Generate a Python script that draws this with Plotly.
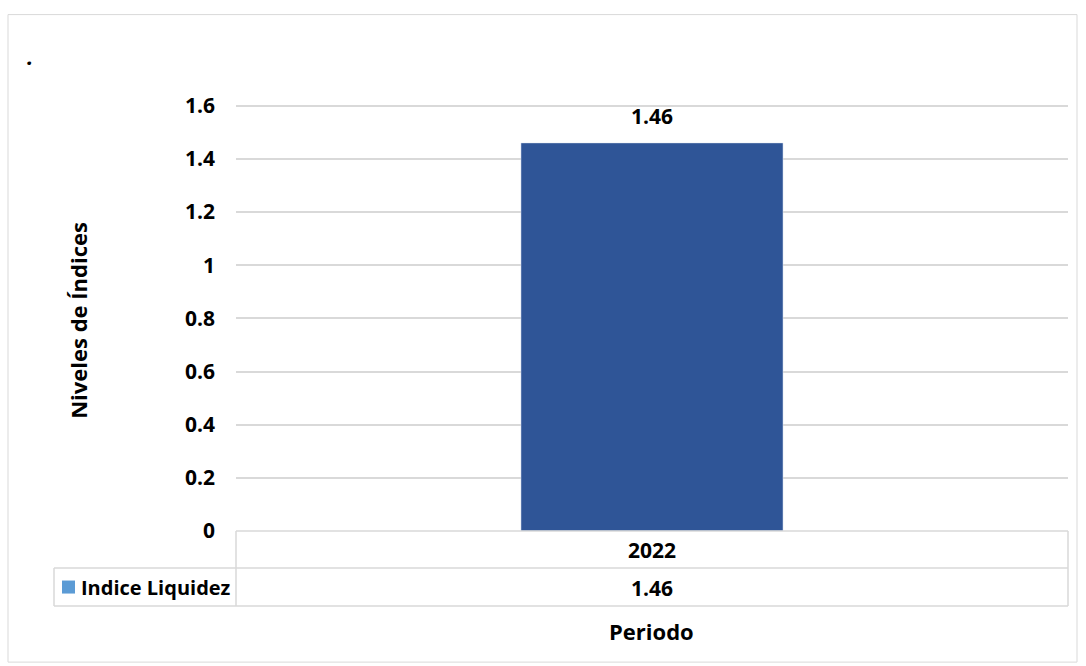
import plotly.graph_objects as go

categories = ["2022"]
series_name = "Indice Liquidez"
values = [1.46]
y_ticks = [0, 0.2, 0.4, 0.6, 0.8, 1, 1.2, 1.4, 1.6]
y_tick_labels = ["0", "0.2", "0.4", "0.6", "0.8", "1", "1.2", "1.4", "1.6"]
y_title = "Niveles de Índices"
x_title = "Periodo"

W, H = 1086, 666
Y_MAX = 1.6
Y_TOP = 1.61  # slight headroom so the top gridline is drawn
L, R, B = 236, 1068, 531
T = B - (B - 106) * Y_TOP / Y_MAX
FONT = "Open Sans"
GRID = "#d9d9d9"
BAR = "#2F5597"
KEY = "#5B9BD5"

def px(x):
    return (x - L) / (R - L)

def py(y):
    return (B - y) / (B - T)

fig = go.Figure()
fig.add_trace(go.Bar(x=categories, y=values, marker_color=BAR, name=series_name,
                     showlegend=False, hoverinfo="skip"))

shapes = []
line = dict(color=GRID, width=1.5)
# outer chart border
shapes.append(dict(type="rect", xref="paper", yref="paper", x0=px(8), x1=px(1077),
                   y0=py(15), y1=py(662), line=dict(color=GRID, width=1)))
# data table lines
for (xa, xb, yy) in [(L, R, 531), (54, R, 568), (54, R, 606)]:
    shapes.append(dict(type="line", xref="paper", yref="paper", x0=px(xa), x1=px(xb),
                       y0=py(yy), y1=py(yy), line=line))
for (xx, ya, yb) in [(54, 568, 606), (L, 531, 606), (R, 531, 606)]:
    shapes.append(dict(type="line", xref="paper", yref="paper", x0=px(xx), x1=px(xx),
                       y0=py(ya), y1=py(yb), line=line))
# legend key in table
shapes.append(dict(type="rect", xref="paper", yref="paper", x0=px(62), x1=px(75),
                   y0=py(580.5), y1=py(593.5), fillcolor=KEY, line=dict(width=0)))

bold = dict(family=FONT, size=21, color="#000000")
key_font = dict(family=FONT, size=20, color="#000000")
title_font = dict(family=FONT, size=22, color="#000000")
annotations = []
for i, (c, v) in enumerate(zip(categories, values)):
    annotations.append(dict(x=i, y=v, xref="x", yref="y", text=f"<b>{v:.2f}</b>",
                            showarrow=False, yshift=27, yanchor="middle", font=bold))
    annotations.append(dict(x=i, y=py(549.5), xref="x", yref="paper", text=f"<b>{c}</b>",
                            showarrow=False, yanchor="middle", font=bold))
    annotations.append(dict(x=i, y=py(587.5), xref="x", yref="paper", text=f"<b>{v:.2f}</b>",
                            showarrow=False, yanchor="middle", font=bold))
annotations.append(dict(x=px(79), y=py(587.5), xref="paper", yref="paper",
                        text=f"<b>{series_name}</b>", showarrow=False, xanchor="left",
                        yanchor="middle", font=key_font))
annotations.append(dict(x=px(78), y=py(321), xref="paper", yref="paper", text=f"<b>{y_title}</b>",
                        textangle=-90, showarrow=False, xanchor="center", yanchor="middle",
                        font=title_font))
annotations.append(dict(x=px(651), y=py(631), xref="paper", yref="paper", text=f"<b>{x_title}</b>",
                        showarrow=False, xanchor="center", yanchor="middle", font=title_font))
annotations.append(dict(x=px(30), y=py(56), xref="paper", yref="paper", text="<b><i>.</i></b>",
                        showarrow=False, xanchor="center", yanchor="middle", font=title_font))

fig.update_layout(
    width=W, height=H,
    margin=dict(l=L, r=W - R, t=T, b=H - B, pad=0),
    paper_bgcolor="white", plot_bgcolor="white",
    bargap=0.685,
    shapes=shapes, annotations=annotations,
    xaxis=dict(type="category", range=[-0.5, len(categories) - 0.5], showticklabels=False,
               showgrid=False, zeroline=False, showline=False, ticks=""),
    yaxis=dict(range=[0, Y_TOP], tickvals=y_ticks, ticktext=[f"<b>{t}</b>" for t in y_tick_labels],
               showgrid=True, gridcolor=GRID, gridwidth=1.5, zeroline=False, showline=False,
               ticks="", ticklabelstandoff=20, tickfont=bold),
)

fig.write_html("out.html", config={"displayModeBar": False},
               post_script="document.body.style.margin='0';document.body.style.overflow='hidden';")
